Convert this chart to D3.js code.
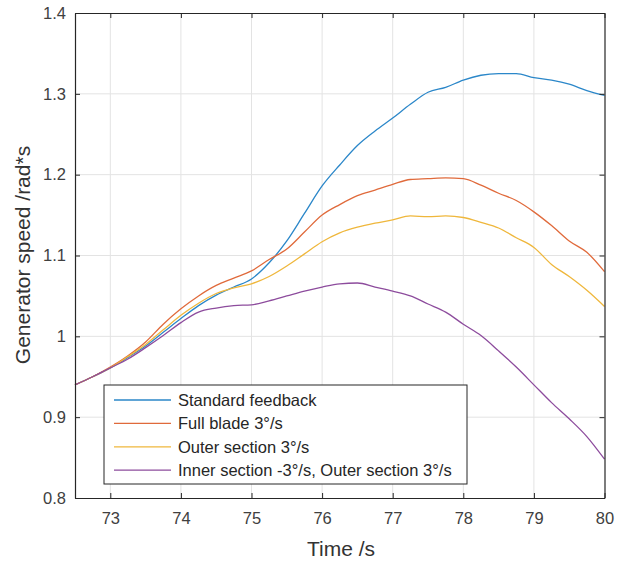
<!DOCTYPE html>
<html>
<head>
<meta charset="utf-8">
<script src="https://cdn.jsdelivr.net/npm/d3@7"></script>
<style>
body { margin: 0; background: white; }
text { font-family: "Liberation Sans", Arial, Helvetica, sans-serif; }
</style>
</head>
<body>
<script>
/* data */
var time = [72.5, 72.75, 73, 73.25, 73.5, 73.75, 74, 74.25, 74.5, 74.75, 75, 75.25, 75.5, 75.75, 76, 76.25,
	76.5, 76.75, 77, 77.25, 77.5, 77.75, 78, 78.25, 78.5, 78.75, 79, 79.25, 79.5, 79.75, 80];
var standardFeedback = [0.940, 0.950, 0.961, 0.974, 0.988, 1.005, 1.022, 1.038, 1.051, 1.061, 1.071, 1.091, 1.118, 1.152, 1.186, 1.212,
	1.236, 1.254, 1.270, 1.287, 1.302, 1.308, 1.317, 1.323, 1.325, 1.325, 1.320, 1.317, 1.312, 1.304, 1.298];
var fullBlade = [0.940, 0.950, 0.962, 0.976, 0.993, 1.015, 1.034, 1.050, 1.063, 1.072, 1.081, 1.095, 1.108, 1.129, 1.150, 1.163,
	1.174, 1.181, 1.188, 1.194, 1.195, 1.196, 1.195, 1.187, 1.177, 1.168, 1.154, 1.137, 1.118, 1.104, 1.080];
var outerSection = [0.940, 0.950, 0.961, 0.975, 0.990, 1.008, 1.026, 1.041, 1.053, 1.060, 1.065, 1.074, 1.087, 1.102, 1.117, 1.128,
	1.135, 1.140, 1.144, 1.149, 1.148, 1.149, 1.147, 1.141, 1.134, 1.122, 1.110, 1.089, 1.074, 1.057, 1.037];
var innerOuter = [0.940, 0.950, 0.961, 0.972, 0.986, 1.001, 1.017, 1.030, 1.035, 1.038, 1.039, 1.044, 1.050, 1.056, 1.061, 1.065,
	1.066, 1.061, 1.056, 1.050, 1.040, 1.030, 1.015, 1.001, 0.982, 0.962, 0.940, 0.918, 0.898, 0.876, 0.848];

var seriesNames = ["Standard feedback", "Full blade 3\u00b0/s", "Outer section 3\u00b0/s", "Inner section -3\u00b0/s, Outer section 3\u00b0/s"];
var seriesValues = [standardFeedback, fullBlade, outerSection, innerOuter];
var xTicks = [73, 74, 75, 76, 77, 78, 79, 80];
var yTicks = [0.8, 0.9, 1, 1.1, 1.2, 1.3, 1.4];
var yTickLabels = ["0.8", "0.9", "1", "1.1", "1.2", "1.3", "1.4"];

/* layout (plot box edges) */
var colours = ["#2b87c9", "#e06a3b", "#efb73c", "#8d4c9d"];
var axisColour = "#262626", gridColour = "#e3e3e3";
var boxLeft = 75, boxTop = 13, boxRight = 604.5, boxBottom = 498;

var svg = d3.select("body").append("svg")
	.attr("width", 617)
	.attr("height", 563);

var x = d3.scaleLinear().domain([72.5, 80]).range([boxLeft, boxRight]);
var y = d3.scaleLinear().domain([0.8, 1.4]).range([boxBottom, boxTop]);

/* grid */
svg.append("g").selectAll("line").data(xTicks.slice(0, -1)).enter().append("line")
	.attr("x1", function(d) { return x(d); }).attr("x2", function(d) { return x(d); })
	.attr("y1", boxTop).attr("y2", boxBottom)
	.attr("stroke", gridColour).attr("stroke-width", 1);
svg.append("g").selectAll("line").data(yTicks.slice(1, -1)).enter().append("line")
	.attr("x1", boxLeft).attr("x2", boxRight)
	.attr("y1", function(d) { return y(d); }).attr("y2", function(d) { return y(d); })
	.attr("stroke", gridColour).attr("stroke-width", 1);

/* curves */
var line = d3.line()
	.x(function(d, i) { return x(time[i]); })
	.y(function(d) { return y(d); })
	.curve(d3.curveMonotoneX);

svg.append("g").selectAll("path").data(seriesValues).enter().append("path")
	.attr("d", line)
	.attr("fill", "none")
	.attr("stroke", function(d, i) { return colours[i]; })
	.attr("stroke-width", 1.3);

/* axes: ticks inward, box on */
var bottomAxis = d3.axisBottom(x).tickValues(xTicks).tickSizeInner(-5).tickSizeOuter(0).tickPadding(14);
var leftAxis = d3.axisLeft(y).tickValues(yTicks).tickSizeInner(-5).tickSizeOuter(0).tickPadding(9)
	.tickFormat(function(d, i) { return yTickLabels[i]; });
var topAxis = d3.axisTop(x).tickValues(xTicks).tickSizeInner(-5).tickSizeOuter(0).tickFormat("");
var rightAxis = d3.axisRight(y).tickValues(yTicks).tickSizeInner(-5).tickSizeOuter(0).tickFormat("");

function styleAxis(g) {
	g.select(".domain").attr("stroke", axisColour).attr("stroke-width", 1.2);
	g.selectAll(".tick line").attr("stroke", axisColour);
	g.selectAll(".tick text").attr("fill", "#404040").style("font-size", "16.5px")
		.style("font-family", "'Liberation Sans', Arial, sans-serif");
}

svg.append("g").attr("transform", "translate(0," + boxBottom + ")").call(bottomAxis).call(styleAxis);
svg.append("g").attr("transform", "translate(" + boxLeft + ",0)").call(leftAxis).call(styleAxis);
svg.append("g").attr("transform", "translate(0," + boxTop + ")").call(topAxis).call(styleAxis);
svg.append("g").attr("transform", "translate(" + boxRight + ",0)").call(rightAxis).call(styleAxis);

/* axis labels */
svg.append("text")
	.attr("x", 341).attr("y", 556)
	.attr("text-anchor", "middle")
	.attr("fill", "#333").style("font-size", "21px")
	.text("Time /s");

svg.append("text")
	.attr("transform", "translate(30," + 255 + ") rotate(-90)")
	.attr("text-anchor", "middle")
	.attr("fill", "#333").style("font-size", "21px")
	.text("Generator speed /rad*s");

/* legend */
var legend = svg.append("g");
legend.append("rect")
	.attr("x", 104).attr("y", 385).attr("width", 363).attr("height", 99)
	.attr("fill", "white").attr("stroke", axisColour).attr("stroke-width", 1);

var items = legend.selectAll("g").data(seriesNames).enter().append("g")
	.attr("transform", function(d, i) { return "translate(0," + (400 + i * 23.4) + ")"; });
items.append("line")
	.attr("x1", 114).attr("x2", 171).attr("y1", 0).attr("y2", 0)
	.attr("stroke", function(d, i) { return colours[i]; }).attr("stroke-width", 1.3);
items.append("text")
	.attr("x", 178).attr("y", 6)
	.attr("fill", "#262626").style("font-size", "16.5px")
	.text(function(d) { return d; });
</script>
</body>
</html>
